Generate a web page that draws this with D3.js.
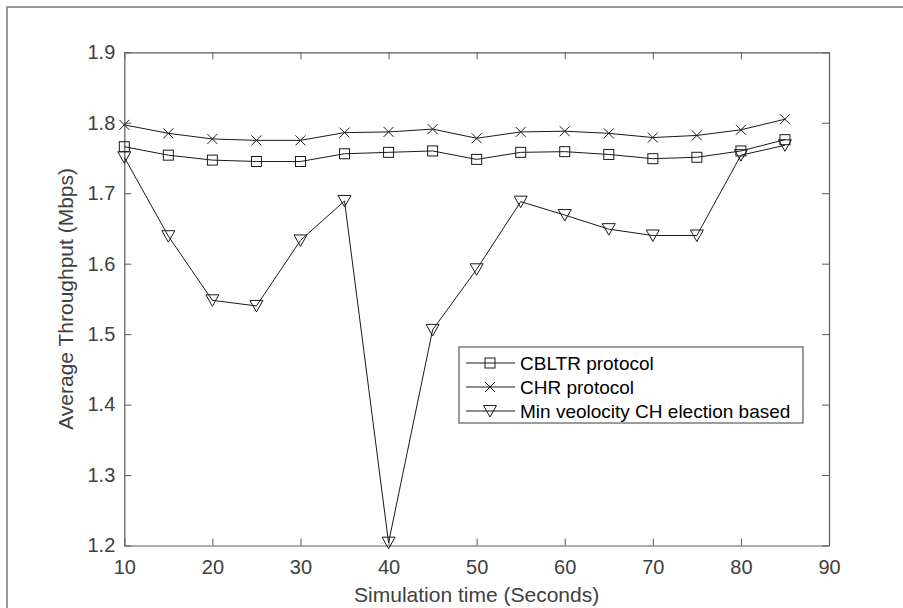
<!DOCTYPE html>
<html lang="en">
    <head>
        <meta charset="UTF-8">
        <script src="https://cdn.jsdelivr.net/npm/d3@7/dist/d3.min.js"></script>
        <title>Average Throughput</title>
        <style>
            body { margin: 0; background: #fff; }
            svg { font-family: "Liberation Sans", Arial, Helvetica, sans-serif; }
            .axis path, .axis line { stroke: #5a5a5a; }
            .axis text { fill: #404040; font-size: 20px; }
        </style>
    </head>
    <body>
        <div id="canvas"></div>

        <script>
            // simulation time (s)
            var times = [10, 15, 20, 25, 30, 35, 40, 45, 50, 55, 60, 65, 70, 75, 80, 85];
            // throughput (Mbps)
            var cbltr = [1.766, 1.754, 1.747, 1.745, 1.745, 1.756, 1.758, 1.760, 1.748, 1.758, 1.759, 1.755, 1.749, 1.751, 1.760, 1.776];
            var chr   = [1.797, 1.785, 1.777, 1.775, 1.775, 1.786, 1.787, 1.791, 1.778, 1.787, 1.788, 1.785, 1.779, 1.782, 1.790, 1.805];
            var minVel = [1.751, 1.639, 1.548, 1.540, 1.633, 1.689, 1.204, 1.506, 1.592, 1.688, 1.669, 1.649, 1.640, 1.640, 1.754, 1.768];
            var seriesNames = ["CBLTR protocol", "CHR protocol", "Min veolocity CH election based"];
            var xTicks = [10, 20, 30, 40, 50, 60, 70, 80, 90];
            var yTicks = [1.2, 1.3, 1.4, 1.5, 1.6, 1.7, 1.8, 1.9];

            var W = 903, H = 608;
            // plot box ("top" is taken by window.top, so m-prefixed)
            var mLeft = 124.3, mRight = 829, mTop = 52.3, mBottom = 545.5;

            var svg = d3.select("#canvas").append("svg")
                    .attr("width", W)
                    .attr("height", H);

            // outer frame (only left/top edges show in the figure)
            svg.append("rect")
                    .attr("x", 7).attr("y", 7)
                    .attr("width", 1000).attr("height", 1000)
                    .attr("fill", "none")
                    .attr("stroke", "#7a7a7a")
                    .attr("stroke-width", 1.5);

            var x = d3.scaleLinear().domain([10, 90]).range([mLeft, mRight]);
            var y = d3.scaleLinear().domain([1.2, 1.9]).range([mBottom, mTop]);

            //  ticks point inward, like MATLAB
            svg.append("g").classed("axis", true)
                    .attr("transform", "translate(0," + mBottom + ")")
                    .call(d3.axisBottom(x).tickValues(xTicks).tickSizeInner(-7).tickSizeOuter(0).tickPadding(14));
            svg.append("g").classed("axis", true)
                    .attr("transform", "translate(0," + mTop + ")")
                    .call(d3.axisTop(x).tickValues(xTicks).tickSizeInner(-7).tickSizeOuter(0).tickFormat(""));
            svg.append("g").classed("axis", true)
                    .attr("transform", "translate(" + mLeft + ",0)")
                    .call(d3.axisLeft(y).tickValues(yTicks).tickSizeInner(-7).tickSizeOuter(0).tickPadding(9).tickFormat(d3.format(".1f")));
            svg.append("g").classed("axis", true)
                    .attr("transform", "translate(" + mRight + ",0)")
                    .call(d3.axisRight(y).tickValues(yTicks).tickSizeInner(-7).tickSizeOuter(0).tickFormat(""));
            svg.selectAll(".axis path.domain").attr("stroke-width", 1.2);

            // axis titles
            svg.append("text")
                    .attr("x", (mLeft + mRight) / 2)
                    .attr("y", 602)
                    .attr("text-anchor", "middle")
                    .attr("fill", "#404040")
                    .attr("font-size", 21)
                    .text("Simulation time (Seconds)");
            svg.append("text")
                    .attr("transform", "translate(73," + (mTop + mBottom) / 2 + ") rotate(-90)")
                    .attr("text-anchor", "middle")
                    .attr("fill", "#404040")
                    .attr("font-size", 21)
                    .text("Average Throughput (Mbps)");

            var markers = {
                square: function (g) {
                    g.append("rect").attr("x", -5).attr("y", -5).attr("width", 10).attr("height", 10);
                },
                cross: function (g) {
                    g.append("path").attr("d", "M-5,-5L5,5M-5,5L5,-5");
                },
                tri: function (g) {
                    g.append("path").attr("d", "M-6.5,-5.5L6.5,-5.5L0,6Z");
                }
            };

            var series = [
                { name: seriesNames[0], values: cbltr, marker: "square" },
                { name: seriesNames[1], values: chr, marker: "cross" },
                { name: seriesNames[2], values: minVel, marker: "tri" }
            ];

            var line = d3.line()
                    .x(function (d) { return x(d[0]); })
                    .y(function (d) { return y(d[1]); });

            series.forEach(function (s) {
                var pts = times.map(function (t, i) { return [t, s.values[i]]; });
                svg.append("path")
                        .datum(pts)
                        .attr("d", line)
                        .attr("fill", "none")
                        .attr("stroke", "#1a1a1a")
                        .attr("stroke-width", 1);
                svg.selectAll(null)
                        .data(pts)
                        .enter().append("g")
                        .attr("transform", function (d) { return "translate(" + x(d[0]) + "," + y(d[1]) + ")"; })
                        .attr("fill", "none")
                        .attr("stroke", "#1a1a1a")
                        .attr("stroke-width", 1)
                        .each(function () { markers[s.marker](d3.select(this)); });
            });

            // legend
            var lg = svg.append("g").attr("transform", "translate(459,347)");
            lg.append("rect")
                    .attr("width", 344).attr("height", 76)
                    .attr("fill", "#fff")
                    .attr("stroke", "#5a5a5a")
                    .attr("stroke-width", 1.2);
            series.forEach(function (s, i) {
                var ry = 16 + i * 24;
                lg.append("line")
                        .attr("x1", 7).attr("x2", 56)
                        .attr("y1", ry).attr("y2", ry)
                        .attr("stroke", "#1a1a1a");
                var m = lg.append("g")
                        .attr("transform", "translate(31," + ry + ")")
                        .attr("fill", "none")
                        .attr("stroke", "#1a1a1a");
                markers[s.marker](m);
                lg.append("text")
                        .attr("x", 61).attr("y", ry + 7)
                        .attr("font-size", 19)
                        .attr("fill", "#000")
                        .text(s.name);
            });
        </script>
    </body>
</html>
